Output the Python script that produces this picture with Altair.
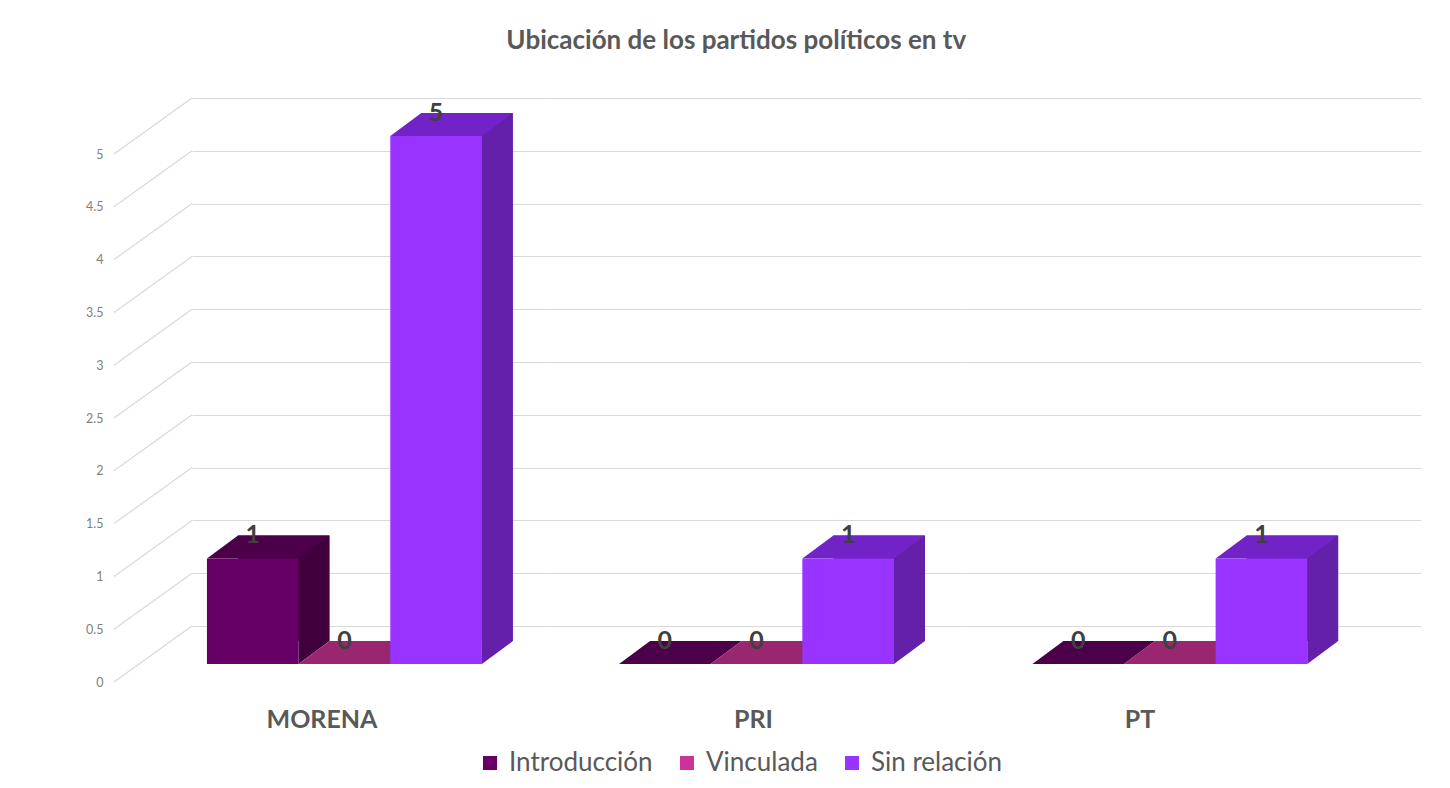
import altair as alt
import pandas as pd

# ---------------- data ----------------
parties = ["MORENA", "PRI", "PT"]
series = ["Introducción", "Vinculada", "Sin relación"]
introduccion = [1, 0, 0]
vinculada = [0, 0, 0]
sin_relacion = [5, 1, 1]
y_ticks = [0, 0.5, 1, 1.5, 2, 2.5, 3, 3.5, 4, 4.5, 5]

# ---------------- styles ----------------
FONT = "Lato"
front_colors = ["#660066", "#cc3399", "#9933ff"]
top_colors = ["#4b0049", "#992670", "#7223c8"]
side_colors = ["#40003d", "#7a1f5a", "#6420a8"]
GRID = "#d9d9d9"
TEXT = "#595959"

rows = []
for i, p in enumerate(parties):
    for s, vals in zip(series, [introduccion, vinculada, sin_relacion]):
        rows.append({"party": p, "series": s, "value": vals[i]})
df = pd.DataFrame(rows)
ticks_df = pd.DataFrame({"tick": y_ticks})


def color_expr(colors):
    return (f"datum.series === '{series[0]}' ? '{colors[0]}' : "
            f"datum.series === '{series[1]}' ? '{colors[1]}' : '{colors[2]}'")


DX, DY = 31, 23          # depth of the pseudo-3D extrusion (px)
BACK = 38                # shift of the back wall gridlines (px)
HALF = 45.8              # half bar width (px)
top_path = f"M {-HALF} 0 L {HALF} 0 L {HALF + DX} {-DY} L {-HALF + DX} {-DY} Z"
tri_path = f"M {HALF} 0 L {HALF} {-DY} L {HALF + DX} {-DY} Z"

yscale = alt.Scale(domain=[0, 5], nice=False, zero=True)
H = 528

# panel widths and band-scale paddings
panel_cfg = {
    "MORENA": dict(width=358, po=0.4527, align=0.18, dx=-49, off=19),
    "PRI": dict(width=413, po=0.7527, align=0.5, dx=-3, off=44),
    "PT": dict(width=458, po=1.0, align=0.379, dx=-52, off=44),
}

legend = alt.Legend(
    orient="none", legendX=285, legendY=614, direction="horizontal", title=None,
    symbolType="square", symbolSize=196, symbolStrokeWidth=0,
    labelFontSize=26, labelFont=FONT, labelColor=TEXT, columnPadding=21,
    labelOffset=6, columns=3,
)


def panel(party, first):
    cfg = panel_cfg[party]
    xscale = alt.Scale(domain=series, paddingInner=0, paddingOuter=cfg["po"], align=cfg["align"])
    xenc = alt.X("series:N", scale=xscale, axis=None, sort=series)
    if first:
        yaxis = alt.Axis(values=y_ticks, tickOffset=-BACK, labelOffset=BACK + 18, grid=True,
                         gridColor=GRID, gridWidth=1.2, ticks=False, domain=False,
                         labelPadding=89, labelFontSize=12.5, labelFont=FONT, format="~g",
                         labelColor="#7f7f7f", title=None)
    else:
        yaxis = alt.Axis(values=y_ticks, tickOffset=-BACK, grid=True, gridColor=GRID,
                         gridWidth=1.2, ticks=False, domain=False, labels=False, title=None)

    base = alt.Chart(df).transform_filter(alt.datum.party == party)

    depth = base.transform_calculate(side=color_expr(side_colors)).mark_bar(
        xOffset=DX, yOffset=-DY, y2Offset=-DY
    ).encode(
        x=xenc,
        y=alt.Y("value:Q", scale=yscale, axis=yaxis),
        y2=alt.datum(0),
        fill=alt.Fill("side:N", scale=None),
    )
    tri = base.transform_filter(alt.datum.value > 0).transform_calculate(
        side=color_expr(side_colors)
    ).mark_point(shape=tri_path, size=4, filled=True, opacity=1, strokeWidth=0).encode(
        x=xenc,
        y=alt.YDatum(0, scale=yscale, axis=yaxis),
        fill=alt.Fill("side:N", scale=None),
    )
    top = base.transform_calculate(topc=color_expr(top_colors)).mark_point(
        shape=top_path, size=4, filled=True, opacity=1, strokeWidth=0
    ).encode(
        x=xenc,
        y=alt.Y("value:Q", scale=yscale, axis=yaxis),
        fill=alt.Fill("topc:N", scale=None),
    )
    front = base.mark_bar().encode(
        x=xenc,
        y=alt.Y("value:Q", scale=yscale, axis=yaxis),
        color=alt.Color("series:N", scale=alt.Scale(domain=series, range=front_colors),
                        legend=legend, sort=series),
    )
    labels = base.mark_text(dy=-DY, baseline="middle", fontWeight="bold", fontSize=25,
                            font=FONT, color="#404040").encode(
        x=xenc,
        y=alt.Y("value:Q", scale=yscale, axis=yaxis),
        text=alt.Text("value:Q"),
    )
    layers = [depth, tri, top, front, labels]
    if first:
        conn = alt.Chart(ticks_df).mark_rule(color=GRID, strokeWidth=1.2, yOffset=18,
                                             y2Offset=-BACK).encode(
            x=alt.value(-78), x2=alt.value(0),
            y=alt.Y("tick:Q", scale=yscale, axis=yaxis),
            y2=alt.Y2("tick:Q"),
        )
        layers = [conn] + layers
    return alt.layer(*layers).properties(
        width=cfg["width"], height=H,
        view=alt.ViewBackground(stroke="transparent", strokeWidth=0),
        title=alt.TitleParams(party, orient="bottom", fontSize=25, fontWeight="bold",
                              font=FONT, color=TEXT, offset=cfg["off"], dx=cfg["dx"]),
    )


chart = alt.hconcat(
    panel("MORENA", True), panel("PRI", False), panel("PT", False), spacing=0
).properties(
    title=alt.TitleParams("Ubicación de los partidos políticos en tv", fontSize=26,
                          fontWeight="bold", font=FONT, color=TEXT, anchor="middle",
                          offset=43, dx=-17),
    padding={"left": 77, "top": 20, "right": 10, "bottom": 10},
).configure_view(stroke="transparent", strokeWidth=0).configure(background="white")

chart.save("out.html", embed_options={"renderer": "svg", "actions": False})
